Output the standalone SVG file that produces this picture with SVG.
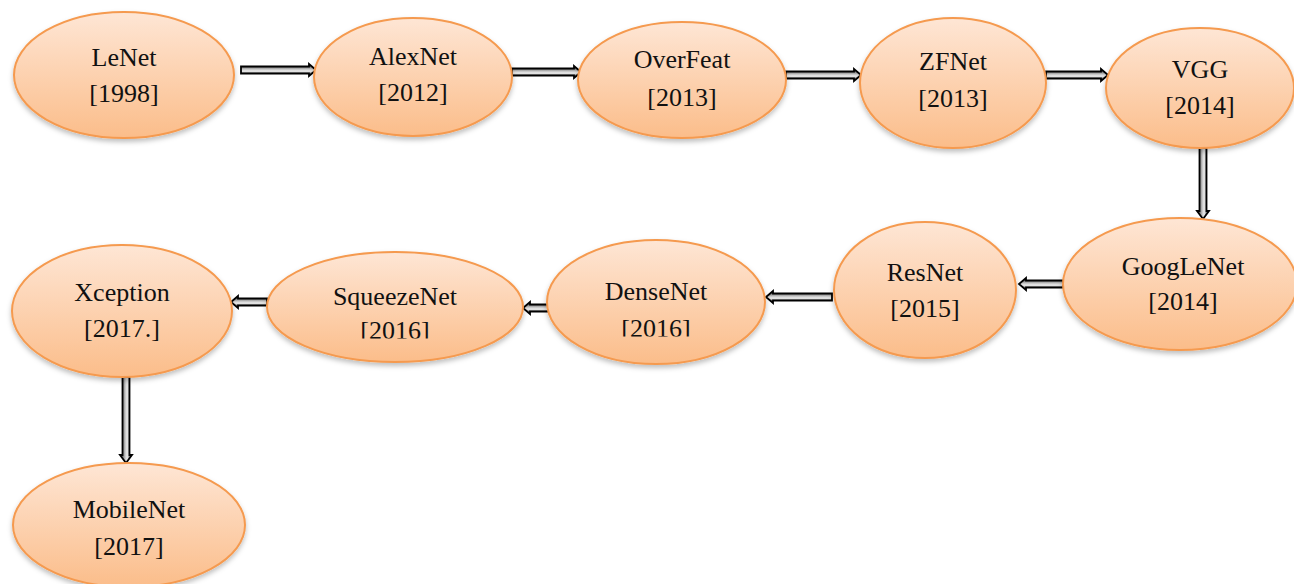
<svg xmlns="http://www.w3.org/2000/svg" width="1294" height="584" viewBox="0 0 1294 584">
  <style>
    .node ellipse { fill: url(#nodeFill); stroke: #f59a4f; stroke-width: 2; filter: url(#shadow); }
    .node text { font-family: "Liberation Serif", Tinos, "Times New Roman", "DejaVu Serif", serif; font-size: 26px; fill: #111; text-anchor: middle; }
    .arrow-h { fill: url(#barH); stroke: #000; stroke-width: 1.8; stroke-linejoin: miter; }
    .arrow-v { fill: url(#barV); stroke: #000; stroke-width: 1.8; stroke-linejoin: miter; }
  </style>
  <defs>
    <linearGradient id="nodeFill" x1="0" y1="0" x2="0" y2="1">
      <stop offset="0" stop-color="#fee6d5"/>
      <stop offset="1" stop-color="#fbbd8a"/>
    </linearGradient>
    <linearGradient id="barH" x1="0" y1="0" x2="0" y2="1">
      <stop offset="0" stop-color="#222"/>
      <stop offset="0.45" stop-color="#c8c8c8"/>
      <stop offset="0.6" stop-color="#eeeeee"/>
      <stop offset="1" stop-color="#1a1a1a"/>
    </linearGradient>
    <linearGradient id="barV" x1="0" y1="0" x2="1" y2="0">
      <stop offset="0" stop-color="#222"/>
      <stop offset="0.45" stop-color="#c8c8c8"/>
      <stop offset="0.6" stop-color="#eeeeee"/>
      <stop offset="1" stop-color="#1a1a1a"/>
    </linearGradient>
    <filter id="shadow" x="-10%" y="-10%" width="120%" height="130%">
      <feDropShadow dx="0" dy="3" stdDeviation="2.5" flood-color="#000" flood-opacity="0.25"/>
    </filter>
    <clipPath id="clipSqueeze"><rect x="260" y="250" width="270" height="88.5"/></clipPath>
    <clipPath id="clipDense"><rect x="540" y="238" width="230" height="98.5"/></clipPath>
  </defs>

  <!-- connectors -->
  <g id="connectors">
    <path class="arrow-h" d="M241 66.5 H309 V64 L316 70 L309 76 V73.5 H241 Z"/>
    <path class="arrow-h" d="M512 68.5 H574 V66 L581 72 L574 78 V75.5 H512 Z"/>
    <path class="arrow-h" d="M786 71.5 H854 V69 L861 75 L854 81 V78.5 H786 Z"/>
    <path class="arrow-h" d="M1046 71.5 H1101 V69 L1108 75 L1101 81 V78.5 H1046 Z"/>
    <path class="arrow-v" d="M1199.5 148 V211 H1197 L1203 219 L1209 211 H1206.5 V148 Z"/>
    <path class="arrow-h" d="M1063 280.5 H1026 V278 L1019 284 L1026 290 V287.5 H1063 Z"/>
    <path class="arrow-h" d="M832 293.5 H773 V291 L766 297 L773 303 V300.5 H832 Z"/>
    <path class="arrow-h" d="M548 304.5 H530 V302 L523 308 L530 314 V311.5 H548 Z"/>
    <path class="arrow-h" d="M267 298.5 H238 V296 L231 302 L238 308 V305.5 H267 Z"/>
    <path class="arrow-v" d="M122.5 377 V455 H120 L126 463 L132 455 H129.5 V377 Z"/>
  </g>

  <g id="lenet" class="node">
    <ellipse cx="124" cy="75" rx="110" ry="63"/>
    <text x="124" y="66">LeNet</text>
    <text x="124" y="102">[1998]</text>
  </g>
  <g id="alexnet" class="node">
    <ellipse cx="413" cy="77" rx="99" ry="59"/>
    <text x="413" y="65">AlexNet</text>
    <text x="413" y="101">[2012]</text>
  </g>
  <g id="overfeat" class="node">
    <ellipse cx="682" cy="80" rx="104" ry="58"/>
    <text x="682" y="68">OverFeat</text>
    <text x="682" y="106">[2013]</text>
  </g>
  <g id="zfnet" class="node">
    <ellipse cx="953" cy="83" rx="93" ry="65"/>
    <text x="953" y="70">ZFNet</text>
    <text x="953" y="107">[2013]</text>
  </g>
  <g id="vgg" class="node">
    <ellipse cx="1200" cy="88" rx="94" ry="60"/>
    <text x="1200" y="78">VGG</text>
    <text x="1200" y="114">[2014]</text>
  </g>
  <g id="googlenet" class="node">
    <ellipse cx="1180" cy="284" rx="117" ry="66"/>
    <text x="1183" y="275">GoogLeNet</text>
    <text x="1183" y="310">[2014]</text>
  </g>
  <g id="resnet" class="node">
    <ellipse cx="925" cy="290" rx="91" ry="68"/>
    <text x="925" y="281">ResNet</text>
    <text x="925" y="317">[2015]</text>
  </g>
  <g id="densenet" class="node">
    <ellipse cx="656" cy="302" rx="109" ry="62"/>
    <text x="656" y="300">DenseNet</text>
    <text x="656" y="337" clip-path="url(#clipDense)">[2016]</text>
  </g>
  <g id="squeezenet" class="node">
    <ellipse cx="395" cy="307" rx="128" ry="55"/>
    <text x="395" y="305">SqueezeNet</text>
    <text x="395" y="339" clip-path="url(#clipSqueeze)">[2016]</text>
  </g>
  <g id="xception" class="node">
    <ellipse cx="122" cy="311" rx="110" ry="66"/>
    <text x="122" y="301">Xception</text>
    <text x="122" y="337">[2017.]</text>
  </g>
  <g id="mobilenet" class="node">
    <ellipse cx="129" cy="525" rx="116" ry="62"/>
    <text x="129" y="518">MobileNet</text>
    <text x="129" y="555">[2017]</text>
  </g>
</svg>
